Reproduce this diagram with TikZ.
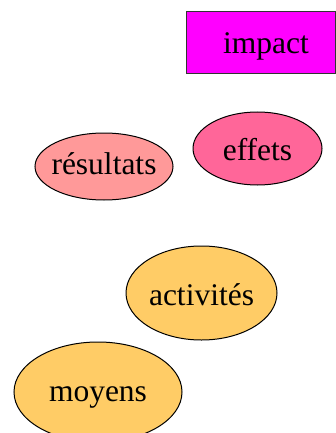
\documentclass[tikz,border=0pt]{standalone}
\usepackage{fontspec}
\setmainfont{Liberation Serif}
\usetikzlibrary{shapes.geometric}
\definecolor{cimpact}{HTML}{FF00FF}
\definecolor{cres}{HTML}{FF9999}
\definecolor{ceff}{HTML}{FF6699}
\definecolor{cact}{HTML}{FFCC66}
\newcommand{\zw}[1]{\makebox[0pt]{#1}}
\tikzset{
  lbl/.style={font=\fontsize{31.5}{32}\selectfont, inner sep=0pt, outer sep=0pt, text=black, text depth=0pt},
  ell/.style={ellipse, draw=black, line width=1pt, lbl},
  box/.style={rectangle, draw=black!80, line width=1pt, lbl}
}
\begin{document}
\begin{tikzpicture}[x=1pt,y=-1pt]
\useasboundingbox (0,0) rectangle (336,433);
\node[box, fill=cimpact, minimum width=149pt, minimum height=62pt, text height=22pt] (impact) at (260.5,43) {\zw{\hspace{11pt}impact}};
\node[ell, fill=cres, minimum width=138pt, minimum height=67pt, text height=15pt] (resultats) at (104,166.5) {\zw{résultats}};
\node[ell, fill=ceff, minimum width=129pt, minimum height=73pt, text height=23pt] (effets) at (257.5,148.5) {\zw{effets}};
\node[ell, fill=cact, minimum width=151pt, minimum height=94pt, text height=24pt] (activites) at (201.5,293) {\zw{activités}};
\node[ell, fill=cact, minimum width=168pt, minimum height=100pt, text height=18pt] (moyens) at (98,392) {\zw{moyens}};
\end{tikzpicture}
\end{document}
